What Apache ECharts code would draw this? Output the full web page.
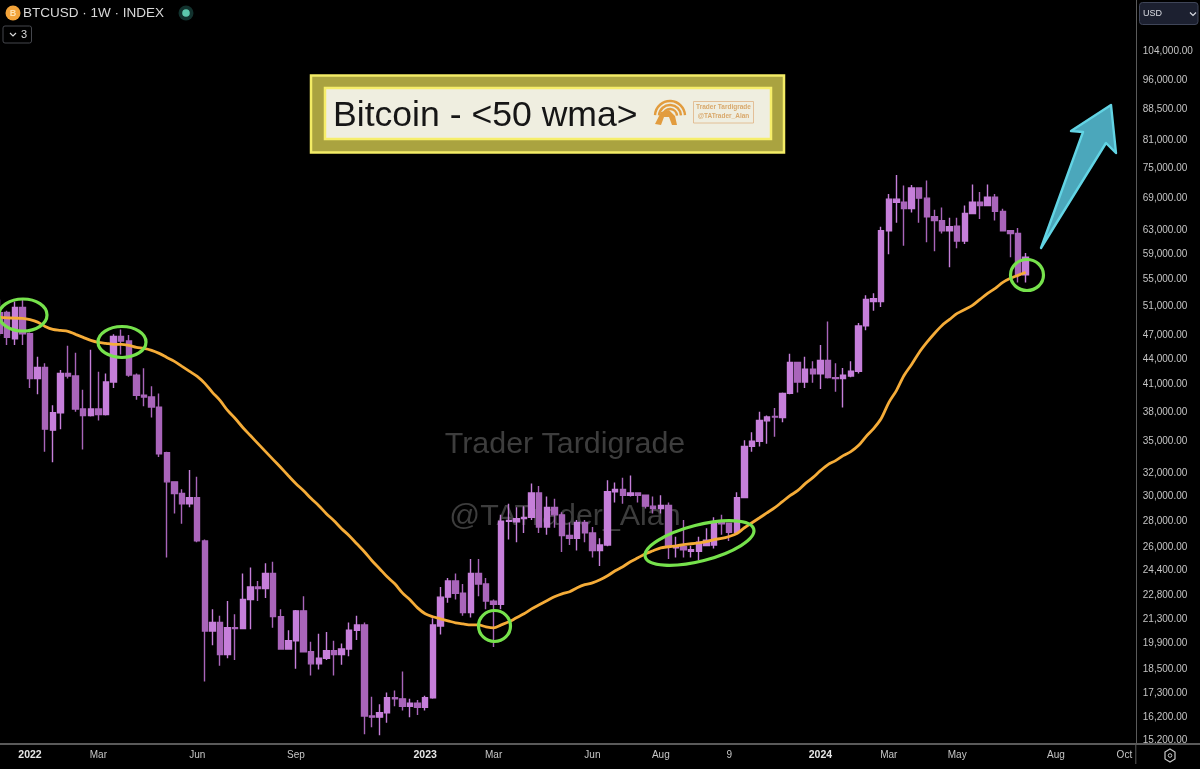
<!DOCTYPE html>
<html>
<head>
<meta charset="utf-8">
<title>BTCUSD 1W</title>
<style>
  html, body { margin: 0; padding: 0; background: #000; }
  #chart { width: 1200px; height: 769px; }
</style>
<script src="https://cdn.jsdelivr.net/npm/echarts@6/dist/echarts.min.js"></script>
</head>
<body>
<div id="chart"></div>
<script>
// weekly candles, first one starts off the left edge
var weeks = [
  '2021-12-06','2021-12-13','2021-12-20','2021-12-27',
  '2022-01-03','2022-01-10','2022-01-17','2022-01-24','2022-01-31','2022-02-07','2022-02-14','2022-02-21','2022-02-28',
  '2022-03-07','2022-03-14','2022-03-21','2022-03-28','2022-04-04','2022-04-11','2022-04-18','2022-04-25',
  '2022-05-02','2022-05-09','2022-05-16','2022-05-23','2022-05-30','2022-06-06','2022-06-13','2022-06-20','2022-06-27',
  '2022-07-04','2022-07-11','2022-07-18','2022-07-25','2022-08-01','2022-08-08','2022-08-15','2022-08-22','2022-08-29',
  '2022-09-05','2022-09-12','2022-09-19','2022-09-26','2022-10-03','2022-10-10','2022-10-17','2022-10-24','2022-10-31',
  '2022-11-07','2022-11-14','2022-11-21','2022-11-28','2022-12-05','2022-12-12','2022-12-19','2022-12-26',
  '2023-01-02','2023-01-09','2023-01-16','2023-01-23','2023-01-30','2023-02-06','2023-02-13','2023-02-20','2023-02-27',
  '2023-03-06','2023-03-13','2023-03-20','2023-03-27','2023-04-03','2023-04-10','2023-04-17','2023-04-24',
  '2023-05-01','2023-05-08','2023-05-15','2023-05-22','2023-05-29','2023-06-05','2023-06-12','2023-06-19','2023-06-26',
  '2023-07-03','2023-07-10','2023-07-17','2023-07-24','2023-07-31','2023-08-07','2023-08-14','2023-08-21','2023-08-28',
  '2023-09-04','2023-09-11','2023-09-18','2023-09-25','2023-10-02','2023-10-09','2023-10-16','2023-10-23','2023-10-30',
  '2023-11-06','2023-11-13','2023-11-20','2023-11-27','2023-12-04','2023-12-11','2023-12-18','2023-12-25',
  '2024-01-01','2024-01-08','2024-01-15','2024-01-22','2024-01-29','2024-02-05','2024-02-12','2024-02-19','2024-02-26',
  '2024-03-04','2024-03-11','2024-03-18','2024-03-25','2024-04-01','2024-04-08','2024-04-15','2024-04-22','2024-04-29',
  '2024-05-06','2024-05-13','2024-05-20','2024-05-27','2024-06-03','2024-06-10','2024-06-17','2024-06-24',
  '2024-07-01','2024-07-08','2024-07-15','2024-07-22','2024-07-29','2024-08-05','2024-08-12','2024-08-19','2024-08-26',
  '2024-09-02','2024-09-09','2024-09-16','2024-09-23','2024-09-30','2024-10-07','2024-10-14'
];

var opens = [
  50100,50150,46600,50850,47250,41700,43000,36100,37900,42300,42000,38300,37600,38300,37700,41300,46900,46300,42100,39800,
  39600,38500,33900,31250,30250,29400,29900,26500,20600,21100,19300,20800,20750,22500,23300,23200,24200,21450,19600,20050,
  21800,19450,18800,19100,19500,19300,19600,20650,20950,16250,16200,16400,17100,17050,16700,16850,16650,17100,20900,22650,
  23700,22900,21700,24200,23500,22400,22200,28000,27950,28200,28300,30300,27550,29100,28500,26900,26700,27900,27100,25800,
  26200,30400,30600,30100,30300,30100,29200,29000,29250,26000,26100,25750,25750,26150,26200,27900,27850,27150,29900,34500,
  35000,37050,37500,37400,40000,43600,41300,42800,42250,43850,41800,41700,42000,42550,48300,51700,51700,63000,68200,68200,
  67000,71000,69000,65500,64800,63000,63800,61200,66100,68200,67600,69200,66500,63000,62500,55700
];
var closes = [
  47300,46800,50850,47250,41700,43000,36200,37900,42300,42000,38300,37600,38300,37700,41300,46900,46300,42100,39800,39600,
  38500,33800,31250,30250,29400,29900,26500,20600,21100,19300,20800,20750,22500,23300,23200,24200,21450,19600,20050,21800,
  19450,18800,19100,19500,19300,19600,20650,20950,16250,16200,16400,17100,17050,16700,16850,16650,17100,20950,22650,23700,
  22900,21700,24200,23500,22400,22200,28000,28050,28200,28300,30300,27550,29100,28500,26900,26700,27900,27100,25800,26200,
  30400,30600,30100,30300,30100,29200,29000,29250,26100,26150,25850,25850,26400,26550,27900,27800,27150,29900,34500,35000,
  37100,37450,37450,40000,43600,41300,42800,42250,43850,41800,41700,42100,42550,48300,52000,52100,63000,68800,68800,67000,
  71000,69000,65500,64800,63000,63700,61200,66100,68200,67600,69200,66500,63000,62500,55700,58500
];
var lows = [
  47000,45800,45800,45800,40600,39900,34000,33000,36200,41700,38000,34200,37500,37100,37600,40600,44600,41900,39300,38600,
  37400,33500,25300,28600,27800,29100,26400,17900,19800,18700,19100,19000,20700,20700,22400,22600,20800,19550,19550,18550,
  19400,18200,18500,19000,18200,18750,19200,20100,15450,15750,15400,15950,16700,16500,16200,16300,16500,17050,20400,22300,
  22500,21500,21400,22700,21900,19700,21900,26600,26400,27100,28100,27100,26950,27500,25700,26200,25800,26400,25300,24700,
  26100,29500,29400,30000,29500,29000,28600,28600,25200,25300,25300,25300,25100,26150,25950,26950,26500,26950,29850,34000,
  34500,34750,35450,36900,39900,40100,40600,41200,40500,41700,40200,38450,41850,42300,47700,50400,50900,59000,64400,60400,
  66300,64400,61000,59500,62500,56900,60000,60700,66000,65100,67500,64800,62900,58500,54500,54500
];
var highs = [
  52000,50400,51700,52000,47400,44300,43500,38700,42700,45700,44800,40400,45200,42500,42300,47200,47800,47100,42300,42900,
  40800,40000,34000,31300,30600,32300,31700,26600,21900,21500,22400,21600,24200,24600,23700,24900,25000,21900,20650,21850,
  22700,20000,20450,20550,20050,19900,21100,21500,21100,17150,16800,17350,17450,18400,17050,17000,17200,21350,23300,23900,
  24200,23500,25200,25200,23900,22500,28500,29400,29100,29200,31100,30900,30000,29800,28700,27900,28100,28100,27550,26700,
  31400,31200,31600,31800,30350,30150,30000,30100,29500,26800,28100,26150,26800,27450,28300,28500,27900,30350,35100,35900,
  38000,37600,38400,40100,44700,43650,44300,43750,45800,48900,43500,42950,43750,48700,52600,52900,63700,69800,73600,71500,
  71600,71100,72500,66800,67200,65300,65300,67600,71700,70200,71700,69800,67000,63050,63500,59200
];
// 50 week moving average
var wma = [
  49460,49400,49350,49320,49140,48810,48230,47830,47700,47570,47170,46780,46390,46130,46000,45870,45870,45740,45490,45360,
  45110,44730,44230,43740,43130,42540,41950,41140,40120,39230,38140,37290,36370,35560,34770,34000,33250,32520,31790,31090,
  30490,29820,29240,28590,28040,27420,26890,26290,25710,25070,24520,23970,23510,22920,22480,21980,21620,21440,21320,21200,
  21080,21020,20960,20960,20850,20790,20960,21140,21380,21620,21920,22170,22420,22670,22860,22990,23250,23450,23570,23770,
  24040,24380,24660,25000,25280,25570,25780,25990,26070,26140,26220,26290,26360,26440,26600,26680,26830,27050,27490,27880,
  28270,28670,29070,29570,30070,30490,31090,31620,32240,32790,33160,33620,34000,34580,35460,36260,37290,38990,40320,42050,
  43370,44850,46120,47290,48360,49180,50010,50570,51140,52010,52880,53630,54530,55160,55620,56090
];

var priceTicks = [104000,96000,88500,81000,75000,69000,63000,59000,55000,51000,47000,44000,41000,38000,35000,32000,
  30000,28000,26000,24400,22800,21300,19900,18500,17300,16200,15200];
var tickWeeks = ['2022-01-03','2022-03-07','2022-06-06','2022-09-05','2023-01-02','2023-03-06','2023-06-05','2023-08-07',
  '2023-10-09','2024-01-01','2024-03-04','2024-05-06','2024-08-05','2024-10-07'];
var tickLabels = ['2022','Mar','Jun','Sep','2023','Mar','Jun','Aug','9','2024','Mar','May','Aug','Oct'];

var candles = opens.map(function (o, i) {
  return [o, closes[i], lows[i], highs[i]];
});

var UI_FONT = '"Liberation Sans", Arial, sans-serif';
var GREEN = '#76e24c';
var LOGO = '#e29c3e';

function ring(cx, cy, rx, ry, rot) {
  return {
    type: 'ellipse', x: cx, y: cy, rotation: rot || 0, z: 100,
    shape: { cx: 0, cy: 0, rx: rx, ry: ry },
    style: { fill: 'none', stroke: GREEN, lineWidth: 3.2 }
  };
}
function label(x, y, text, size, color, extra) {
  var st = { x: x, y: y, text: text, fontSize: size, fill: color, fontFamily: UI_FONT, verticalAlign: 'middle', align: 'left' };
  for (var k in extra) st[k] = extra[k];
  return { type: 'text', z: 100, style: st };
}
function chevron(x, y, color) {
  return {
    type: 'polyline', z: 100,
    shape: { points: [[x, y], [x + 3, y + 3], [x + 6, y]] },
    style: { stroke: color, lineWidth: 1.2, fill: 'none' }
  };
}
function logoArc(r, start, end) {
  return {
    type: 'arc', z: 100,
    shape: { cx: 670, cy: 116, r: r, startAngle: start, endAngle: end },
    style: { stroke: LOGO, lineWidth: 2.4, fill: 'none' }
  };
}

var overlay = [
  // watermark sits under the candles
  { type: 'text', z: 0, style: { x: 565, y: 445, text: 'Trader Tardigrade', fontSize: 30.4, fill: '#3d3d3d', fontFamily: UI_FONT, align: 'center', verticalAlign: 'middle' } },
  { type: 'text', z: 0, style: { x: 565, y: 517, text: '@TATrader_Alan', fontSize: 30.4, fill: '#3d3d3d', fontFamily: UI_FONT, align: 'center', verticalAlign: 'middle' } },

  // frame pieces past the grid
  { type: 'line', z: 90, shape: { x1: 1135.8, y1: 744, x2: 1200, y2: 744 }, style: { stroke: '#5a5a5a', lineWidth: 2 } },
  { type: 'line', z: 90, shape: { x1: 1135.8, y1: 744, x2: 1135.8, y2: 764 }, style: { stroke: '#5a5a5a', lineWidth: 1 } },

  // header
  { type: 'circle', z: 100, shape: { cx: 13, cy: 13, r: 7.5 }, style: { fill: '#f2a33a' } },
  label(13, 13.5, 'B', 9, '#ffe2b0', { align: 'center', fontWeight: 'bold' }),
  label(23, 13.5, 'BTCUSD · 1W · INDEX', 13.5, '#d9d9d9'),
  { type: 'circle', z: 100, shape: { cx: 186, cy: 13, r: 7.5 }, style: { fill: '#12322e' } },
  { type: 'circle', z: 100, shape: { cx: 186, cy: 13, r: 3.8 }, style: { fill: '#5cc9ae' } },
  { type: 'rect', z: 100, shape: { x: 3, y: 26, width: 28.5, height: 17, r: 2 }, style: { fill: 'none', stroke: '#45474d', lineWidth: 1 } },
  chevron(10, 33, '#d9d9d9'),
  label(21, 34.5, '3', 11, '#d9d9d9'),

  // USD box + settings icon
  { type: 'rect', z: 100, shape: { x: 1139.5, y: 2.5, width: 58.5, height: 22, r: 3 }, style: { fill: '#1c2030', stroke: '#3f4558', lineWidth: 1 } },
  label(1143, 13.5, 'USD', 9, '#d9dbe2'),
  chevron(1190, 12.5, '#d9dbe2'),
  { type: 'polygon', z: 100, shape: { points: [[1170, 749], [1175, 752], [1175, 759], [1170, 762], [1165, 759], [1165, 752]] }, style: { fill: 'none', stroke: '#c8c8c8', lineWidth: 1.2 } },
  { type: 'circle', z: 100, shape: { cx: 1170, cy: 755.5, r: 1.8 }, style: { fill: 'none', stroke: '#c8c8c8', lineWidth: 1 } },

  // title panel
  { type: 'rect', z: 100, shape: { x: 311, y: 75.5, width: 473, height: 77 }, style: { fill: '#aaa340', stroke: '#f3ec66', lineWidth: 2.5 } },
  { type: 'rect', z: 100, shape: { x: 325, y: 88, width: 446, height: 51 }, style: { fill: '#efeee0', stroke: '#f6ee6a', lineWidth: 2.5 } },
  label(333, 116, 'Bitcoin - <50 wma>', 35.6, '#161616'),
  logoArc(15, Math.PI * 1.02, Math.PI * 1.98),
  logoArc(11, Math.PI * 1.02, Math.PI * 1.98),
  logoArc(7, Math.PI * 1.02, Math.PI * 1.98),
  { type: 'polygon', z: 100, shape: { points: [[655, 124], [661, 112], [669, 110], [675, 116], [677, 125], [672, 125], [669, 117], [664, 117], [661, 125]] }, style: { fill: LOGO } },
  { type: 'rect', z: 100, shape: { x: 693.5, y: 101.5, width: 60, height: 21.5 }, style: { fill: 'none', stroke: '#e0b384', lineWidth: 0.8 } },
  label(723.5, 107.5, 'Trader Tardigrade', 6.5, '#d9a96c', { align: 'center', fontWeight: 'bold' }),
  label(723.5, 116.5, '@TATrader_Alan', 6.5, '#d9a96c', { align: 'center', fontWeight: 'bold' }),

  // green rings on the touches of the average
  ring(23, 315, 24, 16),
  ring(122, 342, 24, 15.5),
  ring(494.5, 626, 16, 15.5),
  ring(699.5, 543, 56, 18, 0.25),
  ring(1027, 275, 16.5, 15.5),

  // target arrow
  {
    type: 'polygon', z: 100,
    shape: { points: [[1041, 248], [1083, 132], [1071, 131], [1111, 105], [1116, 153], [1106, 143]] },
    style: { fill: '#4ba7bb', stroke: '#62d4e4', lineWidth: 2.4, lineJoin: 'round' }
  }
];

var chart = echarts.init(document.getElementById('chart'), null, { renderer: 'canvas' });

var option = {
  backgroundColor: '#000',
  animation: false,
  graphic: overlay,
  grid: { left: -4.2, top: 0, width: 1140, bottom: 25, outerBoundsMode: 'none' },
  xAxis: {
    type: 'category',
    data: weeks,
    boundaryGap: true,
    axisLine: { lineStyle: { color: '#5a5a5a', width: 2 } },
    axisTick: { show: false },
    splitLine: { show: false },
    axisLabel: {
      margin: 6,
      fontFamily: UI_FONT,
      fontSize: 10,
      color: '#c6c6c6',
      interval: function (idx, value) {
        return tickWeeks.indexOf(value) >= 0;
      },
      formatter: function (value) {
        var t = tickLabels[tickWeeks.indexOf(value)];
        return /^20/.test(t) ? '{year|' + t + '}' : t;
      },
      rich: { year: { fontFamily: UI_FONT, fontSize: 10.5, fontWeight: 'bold', color: '#e6e6e6' } }
    }
  },
  yAxis: {
    type: 'log',
    position: 'right',
    min: 15031,
    max: 119970,
    axisLine: { show: true, onZero: false, lineStyle: { color: '#5a5a5a', width: 1 } },
    axisTick: { show: false },
    splitLine: { show: false },
    minorTick: { show: false },
    axisLabel: {
      margin: 7,
      customValues: priceTicks,
      fontFamily: UI_FONT,
      fontSize: 10,
      color: '#c4c4c4',
      formatter: function (v) {
        return Number(v).toLocaleString('en-US', { minimumFractionDigits: 2 });
      }
    }
  },
  series: [
    {
      name: 'BTCUSD',
      type: 'candlestick',
      data: candles,
      barWidth: 6,
      itemStyle: {
        color: '#c67fda',
        color0: '#a965ba',
        borderColor: '#c67fda',
        borderColor0: '#a965ba',
        borderWidth: 1.4
      }
    },
    {
      name: '50 wma',
      type: 'line',
      data: wma,
      showSymbol: false,
      symbol: 'none',
      smooth: 0.3,
      z: 5,
      lineStyle: { color: '#f5ac38', width: 2.8 }
    }
  ]
};

chart.setOption(option);
</script>
</body>
</html>
